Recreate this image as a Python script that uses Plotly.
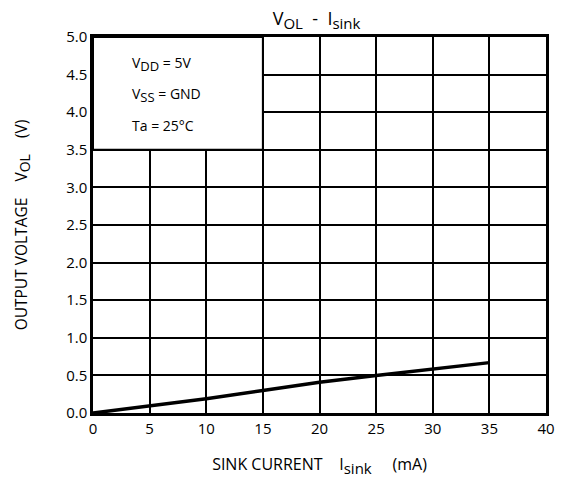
import plotly.graph_objects as go

# Data
sink_current = [0, 5, 10, 15, 20, 25, 30, 35]          # mA
vol = [0.0, 0.09, 0.19, 0.30, 0.41, 0.50, 0.59, 0.67]  # V
x_ticks = [0, 5, 10, 15, 20, 25, 30, 35, 40]
y_ticks = [0.0, 0.5, 1.0, 1.5, 2.0, 2.5, 3.0, 3.5, 4.0, 4.5, 5.0]
y_tick_labels = [f"{v:.1f}" for v in y_ticks]


def sub(t, size):
    return f"<sub><span style='font-size:{size}px'>{t}</span></sub>"


conditions = ["V" + sub("DD", 13) + " = 5V", "V" + sub("SS", 13) + " = GND", "Ta = 25°C"]

FONT = "Open Sans"

fig = go.Figure()
fig.add_trace(go.Scatter(x=sink_current, y=vol, mode="lines",
                         line=dict(color="black", width=3.5),
                         showlegend=False, hoverinfo="skip"))

# condition box (covers grid in top-left corner)
fig.add_shape(type="rect", xref="x", yref="y", x0=0, x1=15, y0=3.5, y1=5.0,
              fillcolor="white", line=dict(color="black", width=2), layer="above")
for i, txt in enumerate(conditions):
    fig.add_annotation(x=3.3, y=4.64 - i * 0.41, xref="x", yref="y", text=txt,
                       showarrow=False, xanchor="left", yanchor="middle",
                       font=dict(family=FONT, size=14, color="black"))

fig.update_layout(
    width=558, height=475,
    margin=dict(l=85, r=20, t=29, b=70),
    paper_bgcolor="white", plot_bgcolor="white",
    title=dict(text="V" + sub("OL", 15) + "  -  I" + sub("sink", 15), x=0.553, xanchor="center",
               y=0.99, yanchor="top",
               font=dict(family=FONT, size=18, color="black")),
    font=dict(family=FONT, color="black"),
)
fig.update_xaxes(range=[0, 40], tickvals=x_ticks, ticktext=[str(v) for v in x_ticks],
                 showgrid=True, gridcolor="black", gridwidth=2, zeroline=False,
                 showline=True, linecolor="black", linewidth=2.5, mirror=True,
                 ticks="", tickfont=dict(family=FONT, size=15, color="black"),
                 title=dict(text="SINK CURRENT    I" + sub("sink", 15) + "     (mA)",
                            font=dict(family=FONT, size=16, color="black"), standoff=23))
fig.update_yaxes(range=[0, 5], tickvals=y_ticks, ticktext=y_tick_labels,
                 showgrid=True, gridcolor="black", gridwidth=2, zeroline=False,
                 showline=True, linecolor="black", linewidth=2.5, mirror=True,
                 ticks="", tickfont=dict(family=FONT, size=15, color="black"),
                 title=dict(text="OUTPUT VOLTAGE    V" + sub("OL", 14) + "    (V)",
                            font=dict(family=FONT, size=15.5, color="black"), standoff=35))

fig.write_html("out.html")
